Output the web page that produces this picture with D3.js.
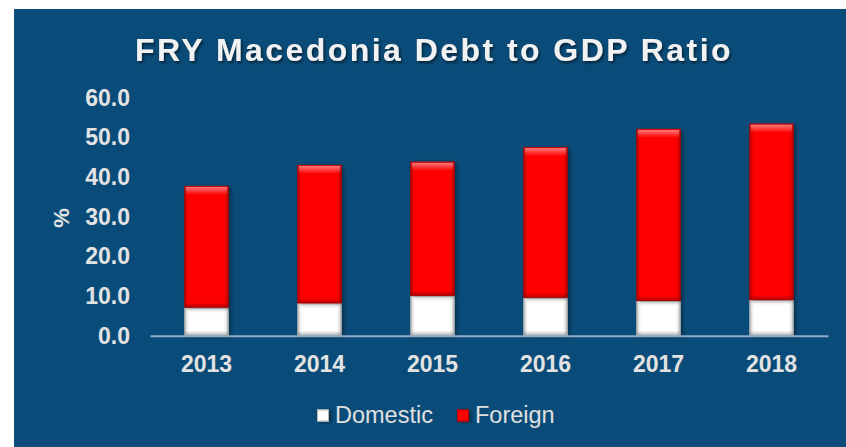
<!DOCTYPE html>
<html>
<head>
<meta charset="utf-8">
<script src="https://cdn.jsdelivr.net/npm/d3@7"></script>
<style>
  html, body { margin: 0; padding: 0; background: #ffffff; }
  svg { display: block; }
  text { font-family: "Liberation Sans", Arial, sans-serif; }
</style>
</head>
<body>
<svg id="chart" width="846" height="447"></svg>
<script>
// Debt to GDP ratio, % of GDP
const years = ["2013", "2014", "2015", "2016", "2017", "2018"];
const domestic = [7.1, 8.2, 10.1, 9.6, 8.8, 9.0];
const foreign = [30.7, 34.9, 33.8, 38.0, 43.4, 44.5];
const seriesNames = ["Domestic", "Foreign"];
const yTicks = [0, 10, 20, 30, 40, 50, 60];

const colors = { Domestic: "#ffffff", Foreign: "#ff0000" };
const edges = { Domestic: "#b5b5b5", Foreign: "#b00000" };

const svg = d3.select("#chart");
const defs = svg.append("defs");

// drop shadow under bars
const shadow = defs.append("filter").attr("id", "barShadow")
  .attr("x", "-30%").attr("y", "-10%").attr("width", "160%").attr("height", "130%");
shadow.append("feDropShadow").attr("dx", 2).attr("dy", 1).attr("stdDeviation", 2.2)
  .attr("flood-color", "#000").attr("flood-opacity", 0.45);

const titleShadow = defs.append("filter").attr("id", "titleShadow")
  .attr("x", "-10%").attr("y", "-30%").attr("width", "120%").attr("height", "160%");
titleShadow.append("feDropShadow").attr("dx", 1.5).attr("dy", 2).attr("stdDeviation", 1.5)
  .attr("flood-color", "#000").attr("flood-opacity", 0.55);

// bevel shading: darker side edges and a light top rim
const sideGrad = defs.append("linearGradient").attr("id", "sideShade")
  .attr("x1", 0).attr("x2", 1).attr("y1", 0).attr("y2", 0);
[[0, 0.28], [0.07, 0.05], [0.12, 0], [0.88, 0], [0.93, 0.05], [1, 0.3]].forEach(([o, a]) =>
  sideGrad.append("stop").attr("offset", o).attr("stop-color", "#000").attr("stop-opacity", a));

const topGrad = defs.append("linearGradient").attr("id", "topShade")
  .attr("x1", 0).attr("x2", 0).attr("y1", 0).attr("y2", 1);
[[0, 0.1], [0.15, 0.45], [1, 0]].forEach(([o, a]) =>
  topGrad.append("stop").attr("offset", o).attr("stop-color", "#fff").attr("stop-opacity", a));

const bottomGrad = defs.append("linearGradient").attr("id", "bottomShade")
  .attr("x1", 0).attr("x2", 0).attr("y1", 0).attr("y2", 1);
[[0, 0], [1, 0.3]].forEach(([o, a]) =>
  bottomGrad.append("stop").attr("offset", o).attr("stop-color", "#000").attr("stop-opacity", a));

// panel background
svg.append("rect").attr("x", 14).attr("y", 9).attr("width", 832).attr("height", 438)
  .attr("fill", "#0a4c79");

// title
svg.append("text")
  .attr("x", 434).attr("y", 61)
  .attr("text-anchor", "middle")
  .attr("font-size", 32).attr("font-weight", "bold")
  .attr("letter-spacing", 2.45)
  .attr("fill", "#f2f2f2")
  .attr("filter", "url(#titleShadow)")
  .text("FRY Macedonia Debt to GDP Ratio");

// scales
const x = d3.scaleBand().domain(years).range([150, 828]).paddingInner(0.61).paddingOuter(0.305);
const y = d3.scaleLinear().domain([0, 60]).range([335.7, 98]);

// stacked data
const rows = years.map((yr, i) => ({ year: yr, Domestic: domestic[i], Foreign: foreign[i] }));
const stacked = d3.stack().keys(seriesNames)(rows);

const barsG = svg.append("g");
stacked.forEach(layer => {
  const key = layer.key;
  const g = barsG.append("g");
  layer.forEach(d => {
    const bx = x(d.data.year), bw = x.bandwidth();
    const by = y(d[1]), bh = y(d[0]) - y(d[1]);
    const bar = g.append("g");
    bar.append("rect").attr("x", bx).attr("y", by).attr("width", bw).attr("height", bh)
      .attr("fill", colors[key]).attr("filter", "url(#barShadow)");
    bar.append("rect").attr("x", bx).attr("y", by).attr("width", bw).attr("height", bh)
      .attr("fill", "url(#sideShade)");
    bar.append("rect").attr("x", bx + 1).attr("y", by).attr("width", bw - 2).attr("height", Math.min(9, bh))
      .attr("fill", "url(#topShade)");
    bar.append("rect").attr("x", bx).attr("y", by + bh - Math.min(5, bh)).attr("width", bw).attr("height", Math.min(5, bh))
      .attr("fill", "url(#bottomShade)");
    bar.append("rect").attr("x", bx + 0.5).attr("y", by + 0.5).attr("width", bw - 1).attr("height", bh - 1)
      .attr("fill", "none").attr("stroke", edges[key]).attr("stroke-width", 1).attr("stroke-opacity", 0.8);
  });
});

// y axis labels
const yAxis = d3.axisLeft(y).tickValues(yTicks).tickFormat(d3.format(".1f")).tickSize(0).tickPadding(0);
const yg = svg.append("g").attr("transform", "translate(130,0)").call(yAxis);
yg.select(".domain").remove();
yg.selectAll("text")
  .attr("font-size", 23).attr("font-weight", "bold").attr("fill", "#e3e3e3")
  .attr("font-family", "'Liberation Sans', Arial, sans-serif");

// x axis baseline and year labels
const xAxis = d3.axisBottom(x).tickSize(0).tickPadding(0);
const xg = svg.append("g").attr("transform", `translate(0,${y(0)})`).call(xAxis);
xg.select(".domain").attr("stroke", "#8fabc6").attr("stroke-width", 2);
xg.selectAll("text")
  .attr("dy", null).attr("y", 36)
  .attr("font-size", 23).attr("font-weight", "bold").attr("fill", "#e3e3e3")
  .attr("font-family", "'Liberation Sans', Arial, sans-serif");

// y axis title
svg.append("text")
  .attr("transform", "translate(69,218) rotate(-90)")
  .attr("text-anchor", "middle")
  .attr("font-size", 22).attr("font-weight", "bold").attr("fill", "#e3e3e3")
  .text("%");

// legend
const legendX = [317, 457];
seriesNames.forEach((name, i) => {
  const lx = legendX[i];
  svg.append("rect").attr("x", lx).attr("y", 409.5).attr("width", 12).attr("height", 12)
    .attr("fill", colors[name]).attr("filter", "url(#barShadow)");
  svg.append("rect").attr("x", lx).attr("y", 409.5).attr("width", 12).attr("height", 12)
    .attr("fill", "url(#sideShade)");
  svg.append("rect").attr("x", lx + 0.5).attr("y", 410).attr("width", 11).attr("height", 11)
    .attr("fill", "none").attr("stroke", edges[name]).attr("stroke-width", 1);
  svg.append("text").attr("x", lx + 18).attr("y", 422.5)
    .attr("font-size", 23.5).attr("fill", "#e0e0e0")
    .text(name);
});
</script>
</body>
</html>
